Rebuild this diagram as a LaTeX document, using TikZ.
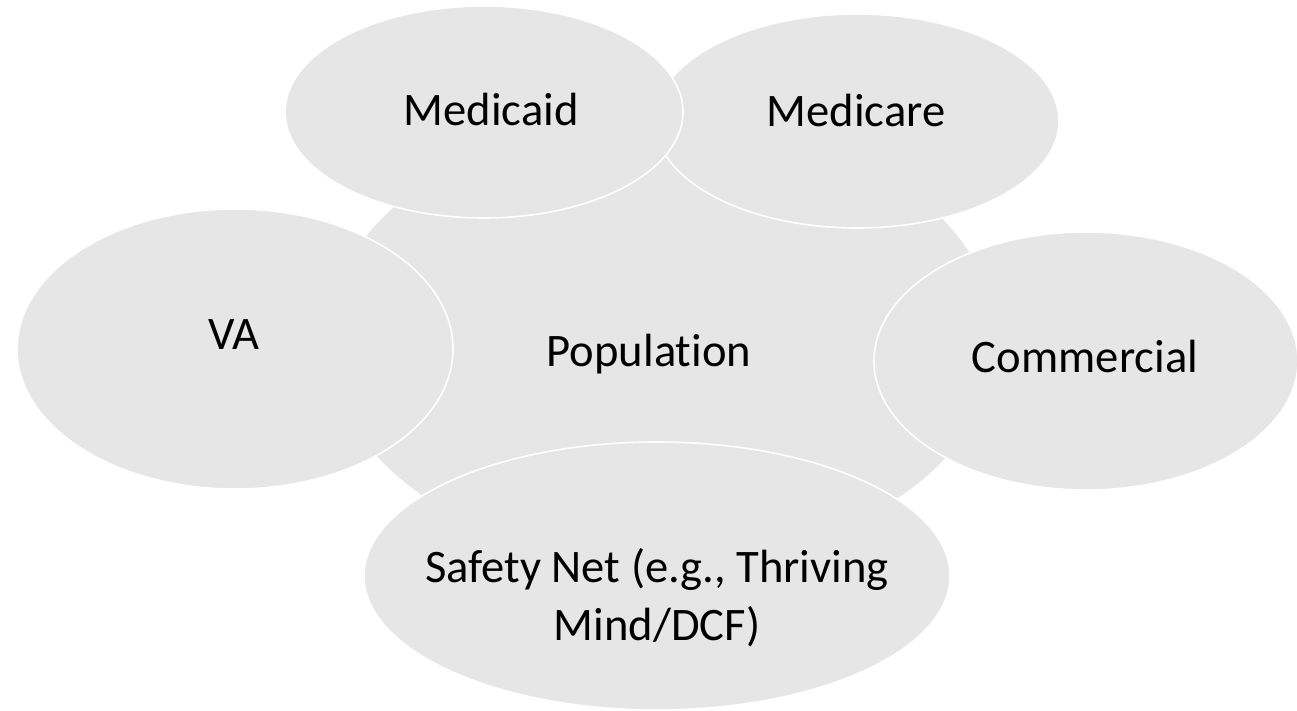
\documentclass[tikz,border=0pt]{standalone}
\usepackage{fontspec}
\setmainfont{Carlito}[Ligatures={NoCommon}]
\usetikzlibrary{shapes.geometric}
\definecolor{blobfill}{HTML}{E6E6E6}
\tikzset{
  blob/.style={ellipse, fill=blobfill, draw=white, line width=1.6pt, inner sep=0pt},
  txt/.style={font=\fontsize{46.6}{58}\selectfont, text=black, inner sep=0pt, align=center}
}
\begin{document}
\begin{tikzpicture}[x=1pt, y=-1pt]
  \useasboundingbox (0,0) rectangle (1297,711);
  % central population ellipse, drawn first so the outer ones lie on top
  \node[blob, minimum width=670pt, minimum height=448pt] (pop) at (662,340) {};
  \node[blob, minimum width=404pt, minimum height=214pt] (medicare) at (857,121) {};
  \node[blob, minimum width=398pt, minimum height=212pt] (medicaid) at (484,112) {};
  \node[blob, minimum width=436pt, minimum height=280pt] (va) at (235,349) {};
  \node[blob, minimum width=424pt, minimum height=258pt] (commercial) at (1086,361) {};
  \node[blob, minimum width=586pt, minimum height=268pt] (safety) at (657,576) {};
  % labels
  \node[txt, anchor=base] (poplabel) at (649,366) {Population};
  \node[txt, anchor=base] (medicarelabel) at (856,127) {Medicare};
  \node[txt, anchor=base] (medicaidlabel) at (491,126) {Medicaid};
  \node[txt, anchor=base] (valabel) at (234,349) {VA};
  \node[txt, anchor=base] (commerciallabel) at (1085,372) {Commercial};
  \node[txt, anchor=base] (safetylabel1) at (657,582) {Safety Net (e.g., Thriving};
  \node[txt, anchor=base] (safetylabel2) at (657,640) {Mind/DCF)};
\end{tikzpicture}
\end{document}
